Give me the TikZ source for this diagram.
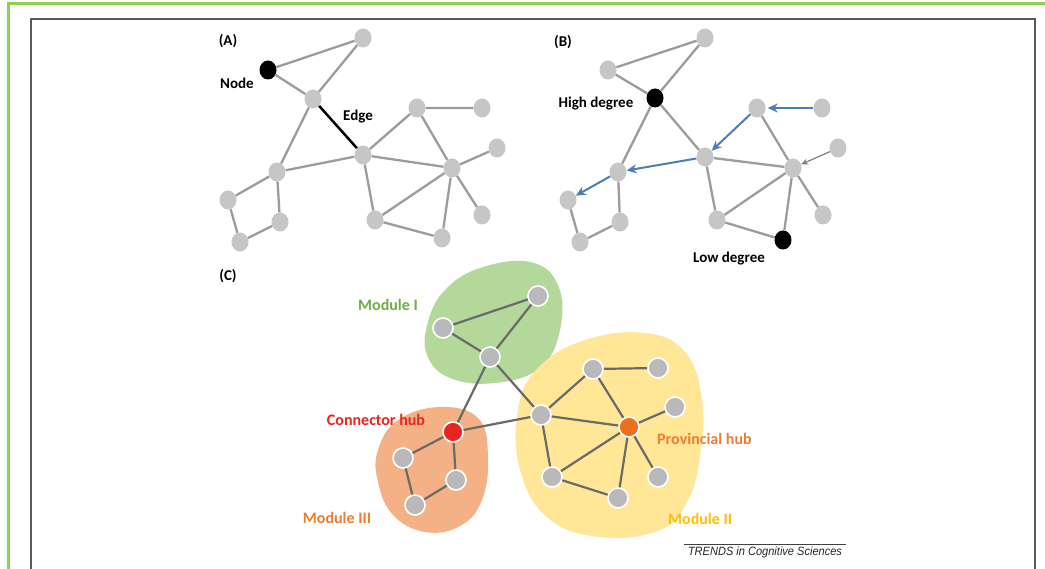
\documentclass[tikz,border=0pt]{standalone}
\usepackage{fontspec}
\setmainfont{Carlito}
\newfontfamily\trendsfont{Liberation Sans}
\usetikzlibrary{shapes.geometric,arrows.meta}
\definecolor{nodegray}{HTML}{C6C6C6}
\definecolor{cgray}{HTML}{B9B9BC}
\definecolor{edgegray}{HTML}{9C9C9C}
\definecolor{cedge}{HTML}{6A6A6A}
\definecolor{arrowblue}{HTML}{4A7EBB}
\definecolor{frameGreen}{HTML}{8ED04B}
\definecolor{frameGray}{HTML}{5A5A5A}
\definecolor{blobgreen}{HTML}{B3D89A}
\definecolor{blobyellow}{HTML}{FFE797}
\definecolor{bloborange}{HTML}{F4B186}
\definecolor{txtgreen}{HTML}{70AD47}
\definecolor{txtred}{HTML}{E8251F}
\definecolor{txtorange}{HTML}{ED7D31}
\definecolor{txtgold}{HTML}{FFC000}
\definecolor{hubred}{HTML}{E8251F}
\definecolor{huborange}{HTML}{EC6F1E}
\tikzset{
  gnode/.style={ellipse,fill=nodegray,minimum width=17pt,minimum height=19pt,inner sep=0pt},
  bnode/.style={gnode,fill=black},
  cnode/.style={circle,fill=cgray,draw=white,line width=1.6pt,minimum size=20pt,inner sep=0pt},
  edge/.style={draw=edgegray,line width=2.3pt},
  cedge/.style={draw=cedge,line width=2.2pt},
  flow/.style={draw=arrowblue,line width=2pt,-{Stealth[length=10pt,width=9pt]}},
  thinflow/.style={draw=gray,line width=1.2pt,-{Stealth[length=7pt,width=6pt]}},
  lbl/.style={font=\bfseries\fontsize{15}{17}\selectfont,inner sep=1pt},
  mlbl/.style={font=\bfseries\fontsize{16}{18}\selectfont,inner sep=1pt}
}
\begin{document}
\begin{tikzpicture}[x=1pt,y=-1pt]
\useasboundingbox (0,0) rectangle (1045,569);
\fill[white] (0,0) rectangle (1045,569);
% outer frames
\draw[frameGreen,line width=2.2pt] (8.5,569) -- (8.5,3.5) -- (1045,3.5);
\draw[frameGray,line width=2.6pt] (31,569) -- (31,19) -- (1035,19) -- (1035,569);

% ---------- panel A ----------
\node[lbl] (labA) at (228,41) {(A)};
\node[gnode] (a1) at (363,38) {};
\node[bnode] (a2) at (268,70) {};
\node[gnode] (a3) at (313,99) {};
\node[gnode] (a4) at (363,155) {};
\node[gnode] (a5) at (417,108) {};
\node[gnode] (a6) at (482,108) {};
\node[gnode] (a7) at (497,148) {};
\node[gnode] (a8) at (452,168) {};
\node[gnode] (a9) at (277,172) {};
\node[gnode] (a10) at (228,200) {};
\node[gnode] (a11) at (280,222) {};
\node[gnode] (a12) at (240,242) {};
\node[gnode] (a13) at (375,220) {};
\node[gnode] (a14) at (442,238) {};
\node[gnode] (a15) at (482,215) {};
\path[edge] (a2)--(a1) (a2)--(a3) (a1)--(a3) (a3)--(a9) (a9)--(a4)
  (a4)--(a5) (a4)--(a8) (a4)--(a13) (a5)--(a6) (a5)--(a8) (a8)--(a7)
  (a8)--(a13) (a8)--(a14) (a8)--(a15) (a13)--(a14) (a9)--(a10)
  (a9)--(a11) (a10)--(a12) (a12)--(a11);
\draw[black,line width=2.5pt] (a3)--(a4);
\node[lbl] (labNode) at (237,83) {Node};
\node[lbl] (labEdge) at (358,117) {Edge};

% ---------- panel B ----------
\node[lbl] (labB) at (563,42) {(B)};
\node[gnode] (b1) at (705,38) {};
\node[gnode] (b2) at (608,70) {};
\node[bnode] (b3) at (655,98) {};
\node[gnode] (b4) at (757,108) {};
\node[gnode] (b5) at (822,108) {};
\node[gnode] (b6) at (838,148) {};
\node[gnode] (b7) at (793,168) {};
\node[gnode] (b8) at (705,157) {};
\node[gnode] (b9) at (618,172) {};
\node[gnode] (b10) at (568,200) {};
\node[gnode] (b11) at (620,222) {};
\node[gnode] (b12) at (580,242) {};
\node[gnode] (b13) at (717,220) {};
\node[bnode] (b14) at (783,240) {};
\node[gnode] (b15) at (823,215) {};
\path[edge] (b2)--(b1) (b2)--(b3) (b1)--(b3) (b3)--(b8) (b3)--(b9)
  (b4)--(b7) (b8)--(b7) (b8)--(b13) (b7)--(b13) (b7)--(b14) (b7)--(b15)
  (b13)--(b14) (b9)--(b11) (b10)--(b12) (b12)--(b11);
\draw[flow] (b5) -- ([xshift=2pt]b4.east);
\draw[flow] (b4) -- (b8);
\draw[flow] (b8) -- (b9);
\draw[flow] (b9) -- (b10);
\draw[thinflow] (b6) -- (b7);
\node[lbl] (labHigh) at (596,104) {High degree};
\node[lbl] (labLow) at (729,259) {Low degree};

% ---------- panel C ----------
\node[lbl] (labC) at (228,276) {(C)};
% modules
\fill[blobgreen] plot[smooth cycle,tension=0.7] coordinates
  {(428,322) (445,290) (480,268) (530,262) (558,285) (560,330) (540,368) (495,383) (450,378) (427,355)};
\fill[blobyellow] plot[smooth cycle,tension=0.7] coordinates
  {(518,410) (538,368) (585,340) (645,333) (685,352) (702,400) (700,455) (688,500) (660,530) (600,537) (548,518) (520,470)};
\fill[bloborange] plot[smooth cycle,tension=0.7] coordinates
  {(378,450) (398,420) (440,407) (478,418) (488,455) (482,500) (460,526) (425,532) (393,515) (378,482)};
\node[cnode] (c1) at (538,296) {};
\node[cnode] (c2) at (443,328) {};
\node[cnode] (c3) at (490,357) {};
\node[cnode,fill=hubred] (hubc) at (453,432) {};
\node[cnode] (c5) at (403,458) {};
\node[cnode] (c6) at (456,480) {};
\node[cnode] (c7) at (415,505) {};
\node[cnode] (c8) at (541,415) {};
\node[cnode] (c9) at (593,369) {};
\node[cnode] (c10) at (658,368) {};
\node[cnode] (c11) at (675,407) {};
\node[cnode,fill=huborange] (hubp) at (629,427) {};
\node[cnode] (c13) at (658,477) {};
\node[cnode] (c14) at (552,477) {};
\node[cnode] (c15) at (618,498) {};
\path[cedge] (c2)--(c1) (c1)--(c3) (c2)--(c3) (c3)--(hubc) (c3)--(c8)
  (hubc)--(c8) (hubc)--(c5) (hubc)--(c6) (c5)--(c7) (c7)--(c6)
  (c8)--(c9) (c8)--(hubp) (c8)--(c14) (c9)--(c10) (c9)--(hubp)
  (hubp)--(c11) (hubp)--(c14) (hubp)--(c15) (hubp)--(c13) (c14)--(c15);
\node[mlbl,text=txtgreen] (labM1) at (388,305) {Module I};
\node[mlbl,text=txtred] (labCH) at (376,420) {Connector hub};
\node[mlbl,text=txtorange] (labM3) at (337,518) {Module III};
\node[mlbl,text=txtorange,anchor=west] (labPH) at (656,439) {Provincial hub};
\node[mlbl,text=txtgold,anchor=west] (labM2) at (667,519) {Module II};

% credit line
\node[font=\trendsfont\itshape\fontsize{12}{14}\selectfont,text=black!85,inner sep=0pt,xscale=0.92] (credit) at (765,552) {TRENDS in Cognitive Sciences};
\draw[black!75,line width=1pt] (684,544.5) -- (846,544.5);
\end{tikzpicture}
\end{document}
